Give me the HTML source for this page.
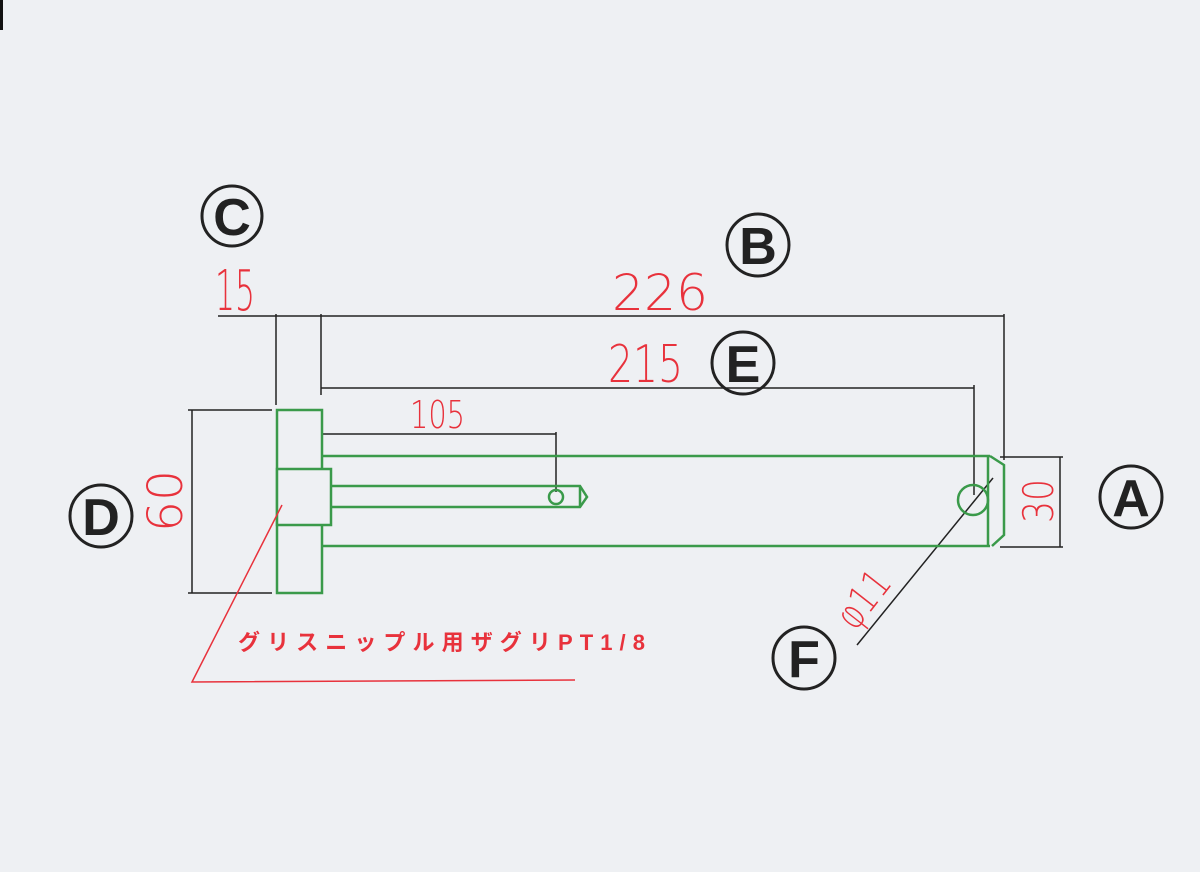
<!DOCTYPE html>
<html><head><meta charset="utf-8"><style>
html,body{margin:0;padding:0;background:#eef0f3;}
svg{display:block}
.n{font-family:"DejaVu Sans","Liberation Sans",sans-serif;fill:#e8323c;font-weight:200}
.c{font-family:"Liberation Sans",sans-serif;font-weight:bold;font-size:52px;fill:#222;text-anchor:middle;dominant-baseline:central}
</style></head><body>
<svg width="1200" height="872" viewBox="0 0 1200 872">
<rect width="1200" height="872" fill="#eef0f3"/>
<rect x="0" y="0" width="3" height="30" fill="#111"/>
<g stroke="#222" stroke-width="1.5" fill="none">
<line x1="218" y1="316" x2="1004" y2="316"/>
<line x1="276" y1="314" x2="276" y2="405"/>
<line x1="321" y1="314" x2="321" y2="395"/>
<line x1="1004" y1="314" x2="1004" y2="460"/>
<line x1="321" y1="388" x2="974" y2="388"/>
<line x1="974" y1="385" x2="974" y2="495"/>
<line x1="323" y1="434" x2="556" y2="434"/>
<line x1="556" y1="432" x2="556" y2="492"/>
<line x1="1000" y1="457" x2="1063" y2="457"/>
<line x1="1000" y1="547" x2="1063" y2="547"/>
<line x1="1060" y1="457" x2="1060" y2="547"/>
<line x1="188" y1="410" x2="272" y2="410"/>
<line x1="188" y1="593" x2="272" y2="593"/>
<line x1="192" y1="410" x2="192" y2="593"/>
<line x1="993" y1="478" x2="857" y2="645"/>
<circle cx="232" cy="216" r="30" stroke-width="3"/>
<circle cx="758" cy="245" r="31" stroke-width="3"/>
<circle cx="743" cy="363" r="31" stroke-width="3"/>
<circle cx="101" cy="516" r="31" stroke-width="3"/>
<circle cx="1131" cy="497" r="31" stroke-width="3"/>
<circle cx="804" cy="658" r="31" stroke-width="3"/>
</g>
<g stroke="#3a9a4a" stroke-width="2.5" fill="none">
<rect x="277" y="410" width="45" height="183"/>
<rect x="277" y="469" width="54" height="56" fill="#eef0f3"/>
<line x1="322" y1="456" x2="990" y2="456"/>
<line x1="322" y1="546" x2="990" y2="546"/>
<line x1="988" y1="456" x2="988" y2="546"/>
<polyline points="990,456 1004,465 1004,535 992,546"/>
<polyline points="331,486 580,486 587,497 580,507 331,507"/>
<line x1="580" y1="486" x2="580" y2="507"/>
<circle cx="556" cy="497" r="7"/>
<circle cx="973" cy="500" r="15"/>
</g>
<polyline points="282,505 192,682 575,680" stroke="#e8323c" stroke-width="1.5" fill="none"/>
<text class="n" x="215" y="310" font-size="56" textLength="40" lengthAdjust="spacingAndGlyphs">15</text>
<text class="n" x="612" y="310" font-size="50" textLength="96" lengthAdjust="spacingAndGlyphs">226</text>
<text class="n" x="608" y="382" font-size="52" textLength="75" lengthAdjust="spacingAndGlyphs">215</text>
<text class="n" x="410" y="428" font-size="38" textLength="55" lengthAdjust="spacingAndGlyphs">105</text>
<text class="n" font-size="48" transform="translate(182,501) rotate(-90)" text-anchor="middle" textLength="62" lengthAdjust="spacingAndGlyphs">60</text>
<text class="n" font-size="42" transform="translate(1053,501) rotate(-90)" text-anchor="middle" textLength="44" lengthAdjust="spacingAndGlyphs">30</text>
<text class="n" font-size="40" transform="translate(855,632) rotate(-52)" textLength="62" lengthAdjust="spacingAndGlyphs">φ11</text>
<text x="238" y="650" font-family="'Liberation Sans','Noto Sans CJK JP',sans-serif" font-weight="bold" font-size="22" fill="#e8323c" textLength="407" lengthAdjust="spacing">グリスニップル用ザグリPT1/8</text>
<text class="c" x="232" y="218">C</text>
<text class="c" x="758" y="247">B</text>
<text class="c" x="743" y="365">E</text>
<text class="c" x="101" y="518">D</text>
<text class="c" x="1131" y="499">A</text>
<text class="c" x="804" y="660">F</text>
</svg>
</body></html>
